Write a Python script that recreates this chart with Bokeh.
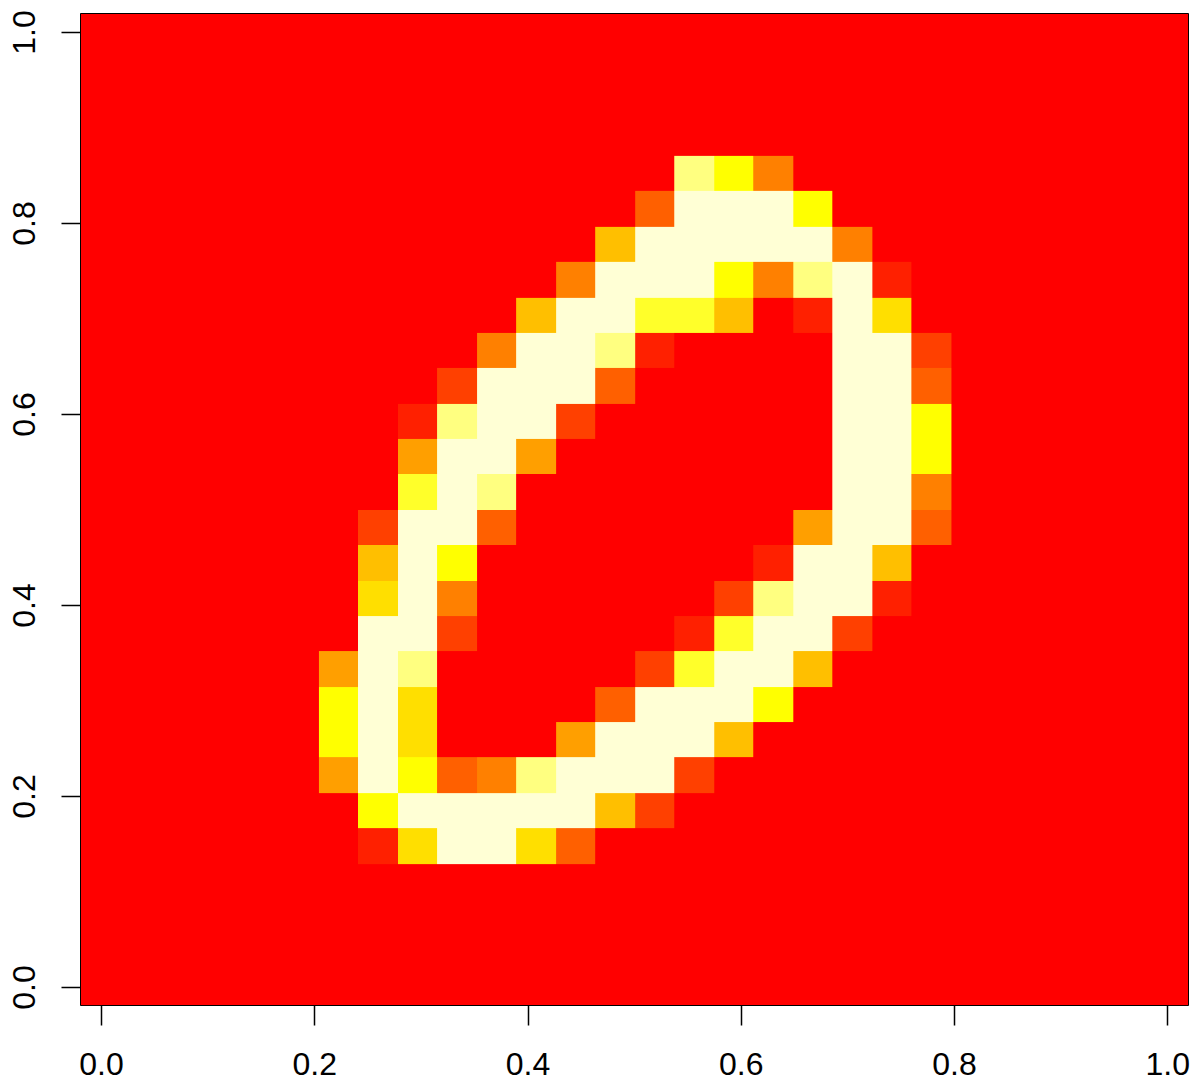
from bokeh.plotting import figure
from bokeh.models import FixedTicker, LinearColorMapper
from bokeh.embed import file_html
from bokeh.resources import INLINE
import numpy as np

palette = ["#FF0000", "#FF2000", "#FF4000", "#FF6000", "#FF8000", "#FF9F00",
           "#FFBF00", "#FFDF00", "#FFFF00", "#FFFF2A", "#FFFF80", "#FFFFD5"]
ticks = [0.0, 0.2, 0.4, 0.6, 0.8, 1.0]
tick_labels = {0.0: "0.0", 0.2: "0.2", 0.4: "0.4", 0.6: "0.6", 0.8: "0.8", 1.0: "1.0"}

# rows from top to bottom, columns left to right (palette index per cell)
cells = [
    [0,0,0,0,0,0,0,0,0,0,0,0,0,0,0,0,0,0,0,0,0,0,0,0,0,0,0,0],
    [0,0,0,0,0,0,0,0,0,0,0,0,0,0,0,0,0,0,0,0,0,0,0,0,0,0,0,0],
    [0,0,0,0,0,0,0,0,0,0,0,0,0,0,0,0,0,0,0,0,0,0,0,0,0,0,0,0],
    [0,0,0,0,0,0,0,0,0,0,0,0,0,0,0,0,0,0,0,0,0,0,0,0,0,0,0,0],
    [0,0,0,0,0,0,0,0,0,0,0,0,0,0,0,10,8,4,0,0,0,0,0,0,0,0,0,0],
    [0,0,0,0,0,0,0,0,0,0,0,0,0,0,3,11,11,11,8,0,0,0,0,0,0,0,0,0],
    [0,0,0,0,0,0,0,0,0,0,0,0,0,6,11,11,11,11,11,4,0,0,0,0,0,0,0,0],
    [0,0,0,0,0,0,0,0,0,0,0,0,4,11,11,11,8,4,10,11,1,0,0,0,0,0,0,0],
    [0,0,0,0,0,0,0,0,0,0,0,6,11,11,9,9,6,0,1,11,7,0,0,0,0,0,0,0],
    [0,0,0,0,0,0,0,0,0,0,4,11,11,10,1,0,0,0,0,11,11,2,0,0,0,0,0,0],
    [0,0,0,0,0,0,0,0,0,2,11,11,11,3,0,0,0,0,0,11,11,3,0,0,0,0,0,0],
    [0,0,0,0,0,0,0,0,1,10,11,11,2,0,0,0,0,0,0,11,11,8,0,0,0,0,0,0],
    [0,0,0,0,0,0,0,0,5,11,11,5,0,0,0,0,0,0,0,11,11,8,0,0,0,0,0,0],
    [0,0,0,0,0,0,0,0,9,11,10,0,0,0,0,0,0,0,0,11,11,4,0,0,0,0,0,0],
    [0,0,0,0,0,0,0,2,11,11,3,0,0,0,0,0,0,0,5,11,11,3,0,0,0,0,0,0],
    [0,0,0,0,0,0,0,6,11,8,0,0,0,0,0,0,0,1,11,11,6,0,0,0,0,0,0,0],
    [0,0,0,0,0,0,0,7,11,4,0,0,0,0,0,0,2,10,11,11,1,0,0,0,0,0,0,0],
    [0,0,0,0,0,0,0,11,11,2,0,0,0,0,0,1,9,11,11,2,0,0,0,0,0,0,0,0],
    [0,0,0,0,0,0,5,11,10,0,0,0,0,0,2,9,11,11,6,0,0,0,0,0,0,0,0,0],
    [0,0,0,0,0,0,8,11,7,0,0,0,0,3,11,11,11,8,0,0,0,0,0,0,0,0,0,0],
    [0,0,0,0,0,0,8,11,7,0,0,0,5,11,11,11,6,0,0,0,0,0,0,0,0,0,0,0],
    [0,0,0,0,0,0,5,11,8,3,4,10,11,11,11,2,0,0,0,0,0,0,0,0,0,0,0,0],
    [0,0,0,0,0,0,0,8,11,11,11,11,11,6,2,0,0,0,0,0,0,0,0,0,0,0,0,0],
    [0,0,0,0,0,0,0,1,7,11,11,7,3,0,0,0,0,0,0,0,0,0,0,0,0,0,0,0],
    [0,0,0,0,0,0,0,0,0,0,0,0,0,0,0,0,0,0,0,0,0,0,0,0,0,0,0,0],
    [0,0,0,0,0,0,0,0,0,0,0,0,0,0,0,0,0,0,0,0,0,0,0,0,0,0,0,0],
    [0,0,0,0,0,0,0,0,0,0,0,0,0,0,0,0,0,0,0,0,0,0,0,0,0,0,0,0],
    [0,0,0,0,0,0,0,0,0,0,0,0,0,0,0,0,0,0,0,0,0,0,0,0,0,0,0,0],
]

n = len(cells)
half = 0.5 / (n - 1)

p = figure(width=1190, height=1078, output_backend="svg", toolbar_location=None,
           x_range=(-0.0197, 1.0194), y_range=(-0.0188, 1.0199),
           min_border_left=80, min_border_right=2, min_border_top=13, min_border_bottom=73,
           background_fill_color="#FF0000", border_fill_color="white")

mapper = LinearColorMapper(palette=palette, low=0, high=len(palette) - 1)
grid = np.array(cells, dtype=float)[::-1]
p.image(image=[grid], x=-half, y=-half, dw=1 + 2 * half, dh=1 + 2 * half,
        color_mapper=mapper)

p.grid.visible = False
p.outline_line_color = "black"
p.outline_line_width = 1

for ax, tick_len, standoff in ((p.xaxis, 20, 27), (p.yaxis, 19, 26)):
    ax.ticker = FixedTicker(ticks=ticks)
    ax.major_label_overrides = tick_labels
    ax.bounds = (0, 1)
    ax.major_tick_in = 0
    ax.major_tick_out = tick_len
    ax.minor_tick_line_color = None
    ax.major_tick_line_color = "black"
    ax.major_tick_line_width = 1.5
    ax.axis_line_color = "black"
    ax.axis_line_width = 1
    ax.major_label_text_font = "Liberation Sans"
    ax.major_label_text_font_size = "32px"
    ax.major_label_text_color = "black"
    ax.major_label_standoff = standoff
p.yaxis.major_label_orientation = "vertical"

open("out.html", "w").write(file_html(p, INLINE))
